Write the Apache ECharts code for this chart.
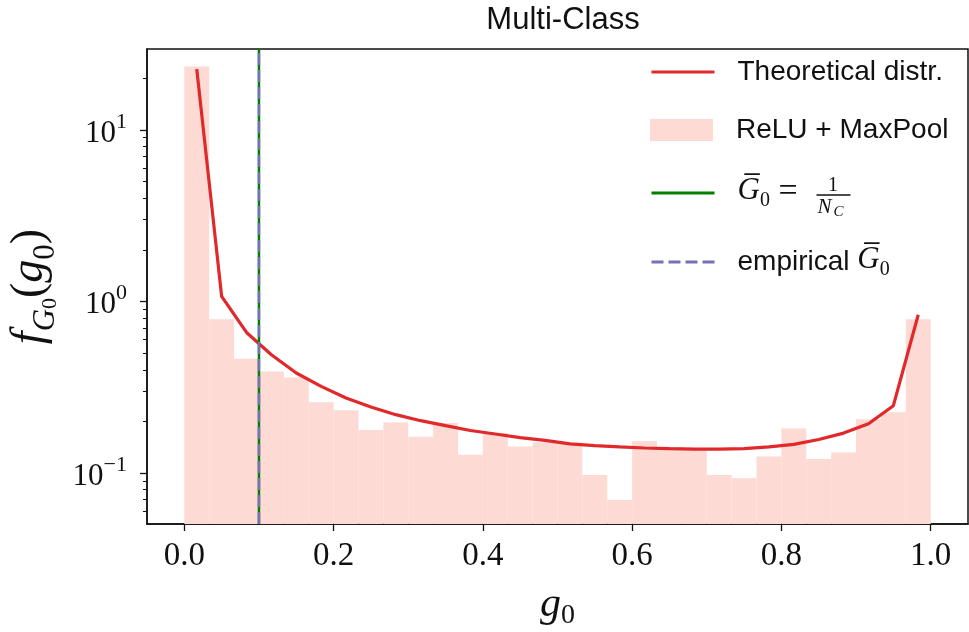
<!DOCTYPE html>
<html><head><meta charset="utf-8">
<script src="https://cdn.jsdelivr.net/npm/echarts@6/dist/echarts.min.js"></script>
<style>html,body{margin:0;padding:0;background:#fff}#c{width:969px;height:632px}</style>
</head><body><div id="c"></div>
<script>
// ---- data ----
const binCount = 30; // histogram bins over [0, 1]
const histValues = [23.4, 0.789, 0.464, 0.391, 0.361, 0.259, 0.232, 0.178, 0.197, 0.163,
                    0.196, 0.128, 0.171, 0.143, 0.151, 0.150, 0.0975, 0.0697, 0.154, 0.142,
                    0.140, 0.0975, 0.0933, 0.125, 0.182, 0.121, 0.132, 0.206, 0.226, 0.789];
const theoryValues = [22.6, 1.07, 0.66, 0.489, 0.383, 0.320, 0.274, 0.243, 0.219, 0.202,
                      0.189, 0.177, 0.169, 0.161, 0.155, 0.148, 0.1445, 0.142, 0.140, 0.1387,
                      0.138, 0.138, 0.139, 0.142, 0.147, 0.157, 0.171, 0.194, 0.247, 0.837];
const meanG0 = 0.1;       // 1 / N_C
const empiricalG0 = 0.1;  // empirical mean
const xTicks = [0, 0.2, 0.4, 0.6, 0.8, 1.0];
const yMajorTicks = [0.1, 1, 10];
const yMinorTicks = [0.06, 0.07, 0.08, 0.09, 0.2, 0.3, 0.4, 0.5, 0.6, 0.7, 0.8, 0.9,
                     2, 3, 4, 5, 6, 7, 8, 9, 20];
const xRange = [-0.05, 1.05];
const yRange = [0.0505, 29.6];

const L = v => Math.log10(v);
const yLo = L(yRange[0]), yHi = L(yRange[1]);

const histData = histValues.map((v, i) => [i / binCount, (i + 1) / binCount, L(v)]);
const theoryData = theoryValues.map((v, i) => [(i + 0.5) / binCount, L(v)]);

const SERIF = '"Liberation Serif", "DejaVu Serif", serif';
const SANS = '"Liberation Sans", "DejaVu Sans", sans-serif';
const BAR = '#fddad3', RED = '#e1282a', GREEN = '#008000', PURPLE = '#7570b8', INK = '#111';

const chart = echarts.init(document.getElementById('c'), null, {renderer: 'canvas'});

const mathRich = {
  sp: {width: 18},
  G: {fontFamily: SERIF, fontStyle: 'italic', fontSize: 31, lineHeight: 36, verticalAlign: 'top'},
  s0: {fontFamily: SERIF, fontSize: 20, lineHeight: 26, verticalAlign: 'bottom'},
  eq: {fontFamily: SERIF, fontSize: 34, lineHeight: 36, verticalAlign: 'top'}
};
function legendComp(name, top, isLine, fmt) {
  const c = {
    data: [isLine ? name : {name: name, icon: 'rect'}],
    left: 650, top: top, padding: 0, itemWidth: 63, itemHeight: 22,
    selectedMode: false,
    formatter: fmt,
    textStyle: {fontFamily: SANS, fontSize: 28, color: INK, rich: mathRich}
  };
  if (isLine) { c.itemStyle = {opacity: 0}; c.lineStyle = {width: 3}; }
  return c;
}

chart.setOption({
  animation: false,
  backgroundColor: '#fff',
  title: {
    text: 'Multi-Class', left: 558, top: 0, textAlign: 'center',
    textStyle: {fontFamily: SANS, fontWeight: 'normal', fontSize: 31, color: INK}
  },
  grid: {left: 147, right: 1, top: 49, bottom: 108, show: true, outerBoundsMode: 'none',
         containLabel: false,
         borderColor: INK, borderWidth: 1.5, backgroundColor: 'transparent'},
  legend: [
    legendComp('Theoretical distr.', 58, true, n => '{sp| }' + n),
    legendComp('ReLU + MaxPool', 116, false, n => '{sp| }' + n),
    legendComp('G0 = 1/NC', 175, true, () => '{sp| }{G|G\u0305}{s0|0}{eq| = }'),
    legendComp('empirical G0', 244, true, () => '{sp| }empirical {G|G\u0305}{s0|0}')
  ],
  graphic: [{
    type: 'group', left: 814, top: 176, z: 100,
    children: [
      {type: 'text', x: 16.5, y: 0, style: {text: '1', font: '20px ' + SERIF, fill: INK, align: 'center'}},
      {type: 'line', shape: {x1: 0, y1: 19, x2: 34, y2: 19}, style: {stroke: INK, lineWidth: 1.3}},
      {type: 'text', x: 1, y: 21, style: {text: 'N', font: 'italic 21px ' + SERIF, fill: INK}},
      {type: 'text', x: 17, y: 29, style: {text: 'C', font: 'italic 15px ' + SERIF, fill: INK}}
    ]
  }],
  xAxis: {
    type: 'value', min: xRange[0], max: xRange[1],
    splitLine: {show: false},
    axisLine: {onZero: false, lineStyle: {color: INK, width: 1.5}},
    axisTick: {customValues: xTicks, inside: false, length: 7, lineStyle: {color: INK, width: 1.3}},
    axisLabel: {customValues: xTicks, formatter: v => v.toFixed(1), margin: 16,
                fontFamily: SERIF, fontSize: 33, color: INK},
    name: '{g|g}{z|0}', nameLocation: 'middle', nameGap: 60,
    nameTextStyle: {rich: {
      g: {fontFamily: SERIF, fontStyle: 'italic', fontSize: 42, lineHeight: 46, verticalAlign: 'top', color: INK},
      z: {fontFamily: SERIF, fontSize: 28, lineHeight: 38, verticalAlign: 'bottom', color: INK}
    }}
  },
  yAxis: [{
    type: 'value', min: yLo, max: yHi,
    splitLine: {show: false},
    axisLine: {onZero: false, lineStyle: {color: INK, width: 1.5}},
    axisTick: {customValues: yMajorTicks.map(L), length: 7, lineStyle: {color: INK, width: 1.3}},
    axisLabel: {customValues: yMajorTicks.map(L), margin: 20,
      formatter: v => { const e = Math.round(v); return '{b|10}{s|' + (e < 0 ? '\u2212' + (-e) : e) + '}'; },
      rich: {
        b: {fontFamily: SERIF, fontSize: 31, lineHeight: 38, verticalAlign: 'bottom', color: INK},
        s: {fontFamily: SERIF, fontSize: 22, lineHeight: 22, verticalAlign: 'top', color: INK}
      }},
    name: '{f|f}{G|G}{z|0}{p|(}{g|g}{y|0}{p|)}', nameLocation: 'middle', nameRotate: 90, nameGap: 86,
    nameTextStyle: {rich: {
      f: {fontFamily: SERIF, fontStyle: 'italic', fontSize: 46, lineHeight: 54, verticalAlign: 'top', color: INK},
      p: {fontFamily: SERIF, fontSize: 46, lineHeight: 54, verticalAlign: 'top', color: INK},
      g: {fontFamily: SERIF, fontStyle: 'italic', fontSize: 46, lineHeight: 54, verticalAlign: 'top', color: INK},
      G: {fontFamily: SERIF, fontStyle: 'italic', fontSize: 31, lineHeight: 46, verticalAlign: 'bottom', color: INK},
      z: {fontFamily: SERIF, fontSize: 22, lineHeight: 34, verticalAlign: 'bottom', color: INK},
      y: {fontFamily: SERIF, fontSize: 31, lineHeight: 46, verticalAlign: 'bottom', color: INK}
    }}
  }, {
    type: 'value', min: yLo, max: yHi, position: 'left',
    splitLine: {show: false},
    axisLine: {show: false, onZero: false},
    axisTick: {customValues: yMinorTicks.map(L), length: 4, lineStyle: {color: INK, width: 1}},
    axisLabel: {show: false}
  }],
  series: [
    {
      name: 'ReLU + MaxPool', type: 'custom', z: 1,
      itemStyle: {color: BAR},
      encode: {x: [0, 1], y: 2},
      data: histData,
      clip: true,
      renderItem: (params, api) => {
        const p0 = api.coord([api.value(0), yLo]);
        const p1 = api.coord([api.value(1), api.value(2)]);
        return {type: 'rect',
          shape: {x: p0[0], y: p1[1], width: p1[0] - p0[0], height: p0[1] - p1[1]},
          style: {fill: BAR}};
      }
    },
    {
      name: 'Theoretical distr.', type: 'line', z: 3, symbol: 'none',
      lineStyle: {color: RED, width: 3.2}, itemStyle: {color: RED},
      data: theoryData
    },
    {
      name: 'G0 = 1/NC', type: 'line', z: 4, symbol: 'none',
      lineStyle: {color: GREEN, width: 2.5}, itemStyle: {color: GREEN},
      data: [[meanG0, yLo], [meanG0, yHi]]
    },
    {
      name: 'empirical G0', type: 'line', z: 5, symbol: 'none',
      lineStyle: {color: PURPLE, width: 2.5, type: [12, 5]}, itemStyle: {color: PURPLE},
      data: [[empiricalG0, yLo], [empiricalG0, yHi]]
    }
  ]
});
</script>
</body></html>
